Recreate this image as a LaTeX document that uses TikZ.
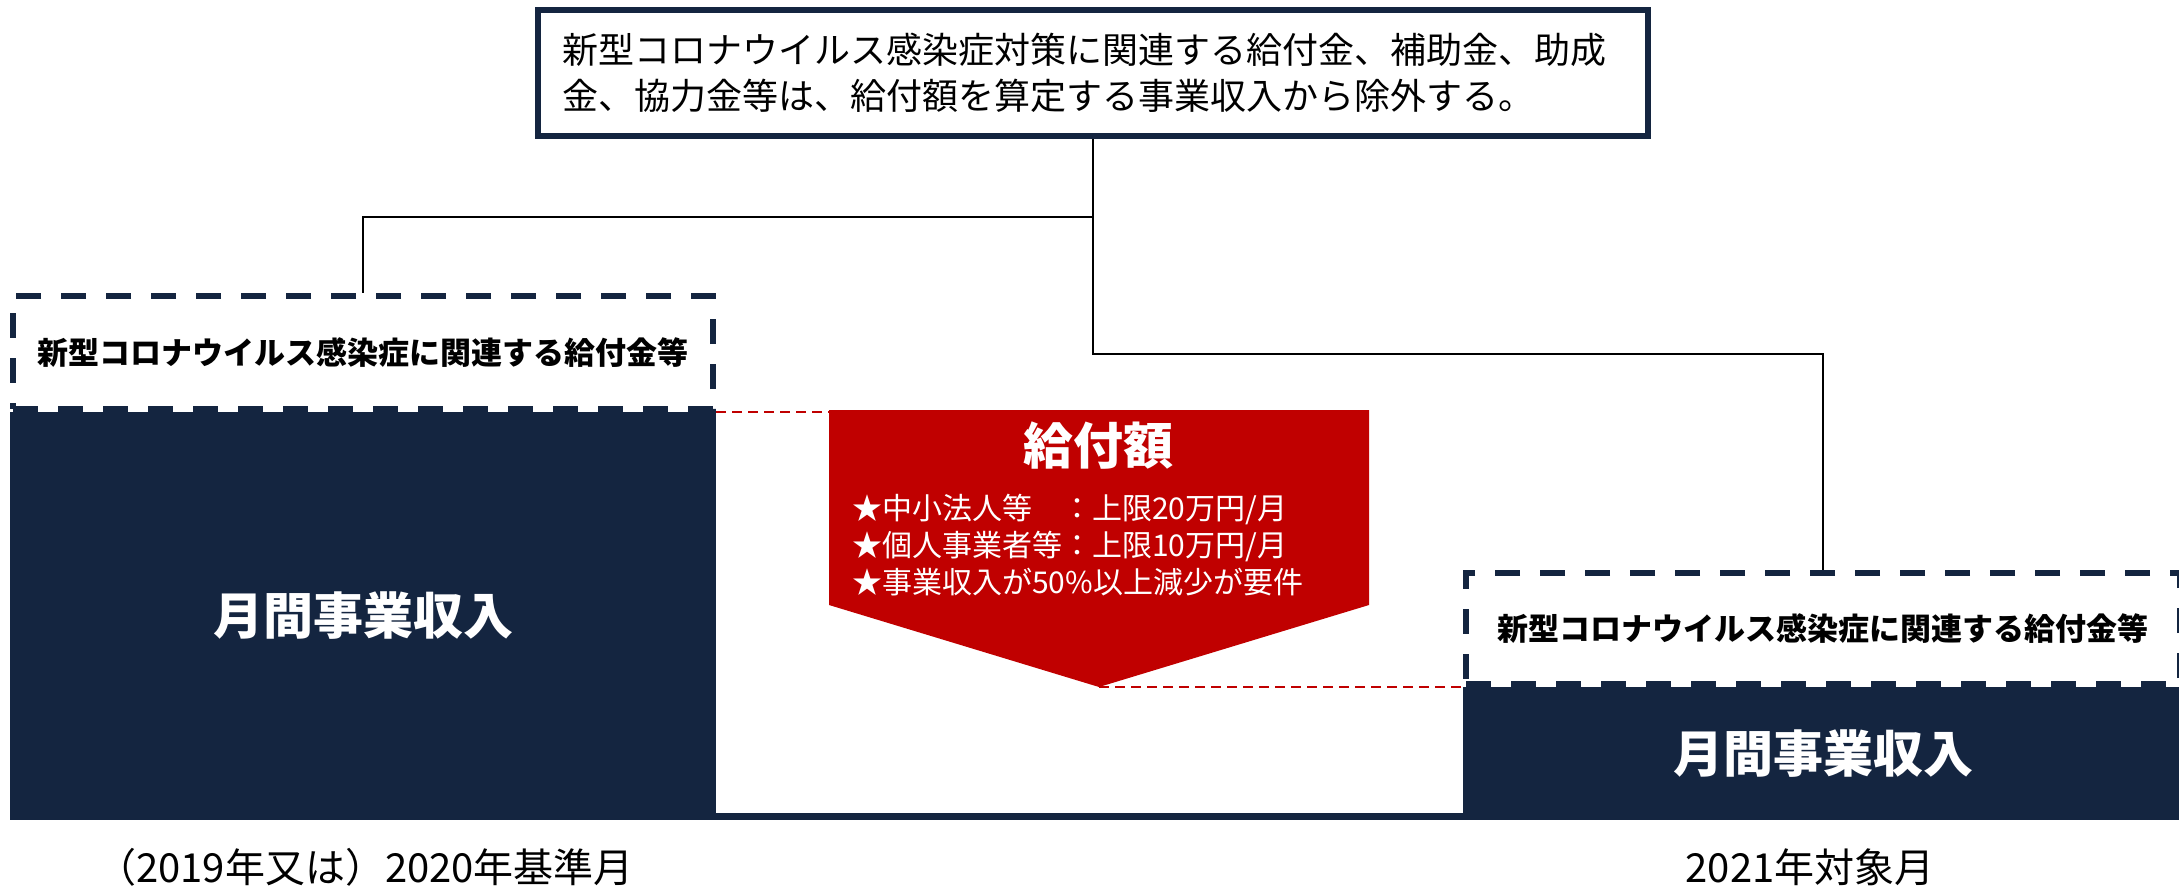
\documentclass[tikz,border=0pt]{standalone}
\usepackage{fontspec}
\setmainfont{Noto Sans CJK JP}
\usetikzlibrary{positioning,calc}
\definecolor{navy}{RGB}{20,37,64}
\definecolor{payred}{RGB}{192,0,0}

\begin{document}
\begin{tikzpicture}[x=1pt,y=-1pt,
    note/.style ={
        draw=navy,
        line width=6pt,
        fill=white,
        minimum width=1110pt,
        minimum height=126pt,
        text width=1062pt,
        inner xsep=24pt,
        align=left,
        font=\fontsize{36}{46}\selectfont
    },
    extra/.style ={
        draw=navy,
        line width=6pt,
        dash pattern=on 25pt off 20pt,
        inner sep=0pt,
        font=\fontsize{31}{38}\selectfont\bfseries
    },
    base/.style ={
        fill=navy,
        text=white,
        inner sep=0pt,
        font=\fontsize{50}{60}\selectfont\bfseries
    },
    wire/.style ={
        draw=black,
        line width=2.2pt
    },
    link/.style ={
        draw=payred,
        line width=2.5pt,
        dash pattern=on 10pt off 6pt
    },
    stamp/.style ={
        inner sep=0pt,
        font=\fontsize{40}{48}\selectfont
    }
    ]
    \useasboundingbox (0,0) rectangle (2179,887);

    % revenue blocks
    \node[base, minimum width=706pt, minimum height=408pt] (lbase) at (363,616) {月間事業収入};
    \node[base, minimum width=720pt, minimum height=133pt] (rbase) at (1823,753.5) {月間事業収入};
    \fill[navy] (lbase.south east) rectangle ($(rbase.south west)+(0,-7)$);

    % subsidy boxes
    \node[extra, minimum width=700pt, minimum height=113pt] (lextra) at (363,352.5) {新型コロナウイルス感染症に関連する給付金等};
    \node[extra, minimum width=714pt, minimum height=111pt] (rextra) at (1823,628.5) {新型コロナウイルス感染症に関連する給付金等};

    % note on top
    \node[note] (note) at (1093,73) {新型コロナウイルス感染症対策に関連する給付金、補助金、助成\\金、協力金等は、給付額を算定する事業収入から除外する。};
    \coordinate (split) at (1093,217);
    \coordinate (turn) at (1093,354);
    \draw[wire] (note) -- (split) -| (lextra);
    \draw[wire] (split) -- (turn) -| (rextra);

    % payment arrow
    \node[minimum width=540pt, minimum height=195pt, inner sep=0pt, outer sep=0pt] (pay) at (1099,507.5) {};
    \coordinate (tip) at (1099,687);
    \fill[payred] (pay.north west) -- (pay.north east) -- (pay.south east) -- (tip) -- (pay.south west) -- cycle;
    \node[text=white, inner sep=0pt, font=\fontsize{50}{60}\selectfont\bfseries] (paytitle) at (1098,446) {給付額};
    \node[text=white, inner sep=0pt, anchor=west, align=left, font=\fontsize{30}{37}\selectfont] (paylist) at (852,545)
        {★中小法人等　：上限20万円/月\\★個人事業者等：上限10万円/月\\★事業収入が50\%以上減少が要件};
    \draw[link] (lbase.north east) -- (lbase.north east -| pay.west);
    \draw[link] (tip) -- (rextra.south west);

    % month labels
    \node[stamp] (basemonth) at (365,867) {（2019年又は）2020年基準月};
    \node[stamp] (targetmonth) at (1810,867) {2021年対象月};
\end{tikzpicture}
\end{document}
